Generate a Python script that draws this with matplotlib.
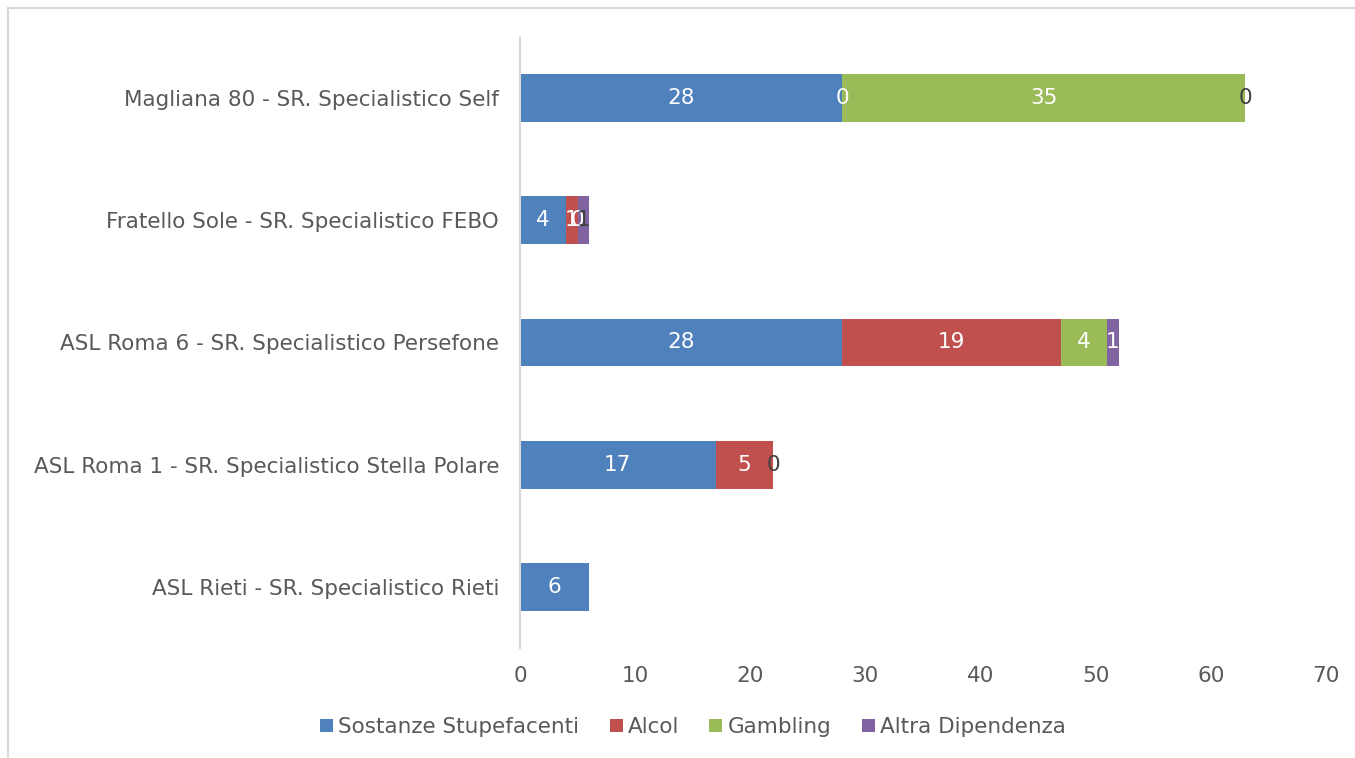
import numpy as np
import matplotlib
matplotlib.use("Agg")
import matplotlib.pyplot as plt
from matplotlib.patches import Rectangle

categories = ["ASL Rieti - SR. Specialistico Rieti",
              "ASL Roma 1 - SR. Specialistico Stella Polare",
              "ASL Roma 6 - SR. Specialistico Persefone",
              "Fratello Sole - SR. Specialistico FEBO",
              "Magliana 80 - SR. Specialistico Self"]
series_names = ["Sostanze Stupefacenti", "Alcol", "Gambling", "Altra Dipendenza"]
sostanze = [6, 17, 28, 4, 28]
alcol = [None, 5, 19, 1, 0]
gambling = [None, None, 4, 0, 35]
altra = [None, 0, 1, 1, 0]
colors = ["#4F81BD", "#C0504D", "#9BBB59", "#8064A2"]
xticks = [0, 10, 20, 30, 40, 50, 60, 70]

TXT = "#595959"
FS = 15.5

fig = plt.figure(figsize=(13.55, 7.58), dpi=100)
fig.patches.append(Rectangle((8 / 1355, -0.1), 1.2, (758 - 8) / 758 + 0.1,
                             transform=fig.transFigure, fill=False,
                             edgecolor="#D9D9D9", linewidth=1.5))
ax = fig.add_axes([520 / 1355, 1 - 648 / 758, (1326 - 520) / 1355, (648 - 37) / 758])

y = np.arange(len(categories))
left = np.zeros(len(categories))
for k, vals in enumerate([sostanze, alcol, gambling, altra]):
    v = np.array([0 if x is None else x for x in vals], dtype=float)
    ax.barh(y, v, left=left, height=0.39, color=colors[k], label=series_names[k])
    for i, x in enumerate(vals):
        if x is None:
            continue
        # Altra Dipendenza labels mostly sit outside or on a thin slice -> dark text
        col = "white"
        if k == 3 and not (i == 2):
            col = "#404040"
        ax.text(left[i] + v[i] / 2, y[i], str(x), ha="center", va="center",
                color=col, fontsize=FS)
    left += v

ax.set_xlim(0, 70)
ax.set_ylim(-0.5, 4.5)
ax.set_yticks(y)
ax.set_yticklabels(categories, fontsize=FS, color=TXT)
ax.set_xticks(xticks)
ax.set_xticklabels([str(t) for t in xticks], fontsize=FS, color=TXT)
ax.tick_params(axis="both", length=0)
ax.tick_params(axis="y", pad=15)
ax.tick_params(axis="x", pad=13)
for s in ["top", "right", "bottom"]:
    ax.spines[s].set_visible(False)
ax.spines["left"].set_color("#D9D9D9")
ax.spines["left"].set_linewidth(1.5)

fig.legend(loc="center", bbox_to_anchor=(693 / 1355, 1 - 727 / 758), ncol=4,
           frameon=False, fontsize=FS, labelcolor=TXT, handlelength=0.6,
           handleheight=0.6, handletextpad=0.25, columnspacing=1.4)

fig.savefig("out.png", dpi=100)
